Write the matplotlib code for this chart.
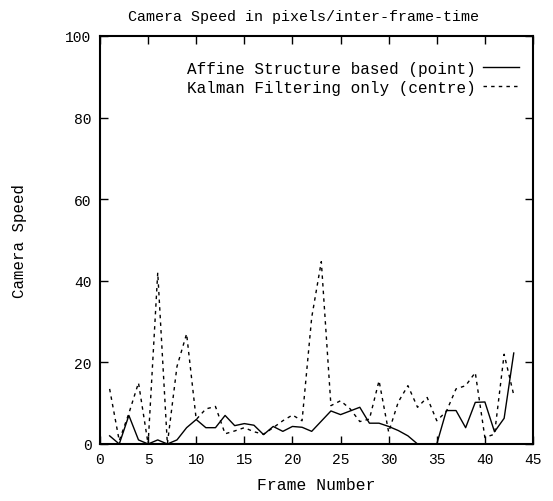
import matplotlib
matplotlib.use("Agg")
import matplotlib.pyplot as plt
import numpy as np

frames = np.arange(1, 44)
affine = [2, 0, 7, 1, 0, 1, 0, 1, 4, 6,
          4, 4, 7, 4.5, 5, 4.6, 2.3, 4.3, 3.1, 4.3,
          4.1, 3.1, 5.6, 8.1, 7.2, 8.1, 9, 5.1, 5.1, 4.3,
          3.3, 2, 0, 0, 0, 8.2, 8.2, 4, 10.2, 10.3,
          3, 6.3, 22.3]
kalman = [13.5, 0.8, 7.5, 15, 0, 42, 0, 19, 27, 6,
          8.6, 9.2, 2.5, 3.2, 4, 3, 2.4, 4, 5.7, 7.1,
          5.7, 31, 44.7, 9.4, 10.6, 8.6, 5.5, 6.1, 15.5, 2.9,
          10.3, 14.3, 9, 11.4, 5.7, 8, 13.5, 14.3, 17.5, 1.6,
          2.4, 22, 12]

plt.rcParams['font.family'] = ['Liberation Mono', 'DejaVu Sans Mono']

fig = plt.figure(figsize=(5.53, 5.02), dpi=100)
ax = fig.add_axes([100/553, 1 - 445/502, 433/553, 408/502])

ax.plot(frames, affine, color="black", lw=1.0, label="Affine Structure based (point)")
ax.plot(frames, kalman, color="black", lw=1.0, linestyle=(0, (2.5, 3)),
        label="Kalman Filtering only (centre)")

ax.set_xlim(0, 45)
ax.set_ylim(0, 100)
ax.set_xticks(np.arange(0, 46, 5))
ax.set_yticks(np.arange(0, 101, 20))
ax.tick_params(direction="in", length=6, width=1, top=True, right=True, labelsize=10.5, pad=6)
for s in ax.spines.values():
    s.set_linewidth(1.5)

fig.text(303/553, 1 - 17/502, "Camera Speed in pixels/inter-frame-time",
         fontsize=10.8, ha="center", va="center")
ax.set_xlabel("Frame Number", fontsize=11.8, labelpad=8)
ax.set_ylabel("Camera Speed", fontsize=11.3, labelpad=28)

ax.legend(loc="upper right", frameon=False, markerfirst=False, fontsize=11.5,
          handlelength=2.2, handletextpad=0.5, labelspacing=0.28,
          bbox_to_anchor=(1.0, 0.975))

plt.savefig("out.png", dpi=100)
